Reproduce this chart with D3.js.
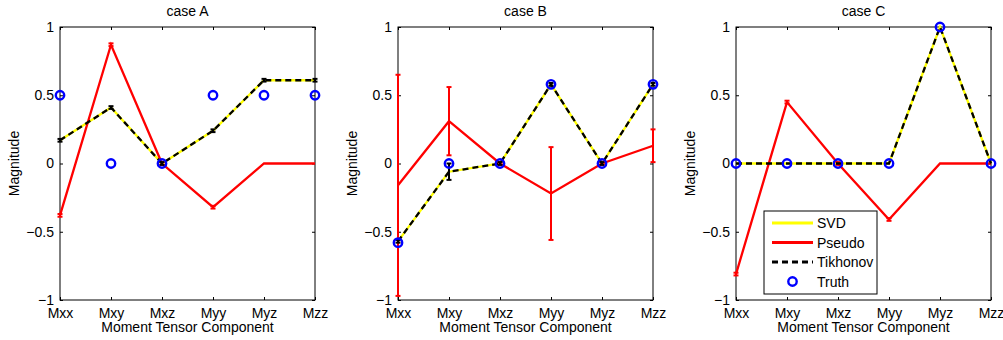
<!DOCTYPE html>
<html>
<head>
<meta charset="utf-8">
<script src="https://cdn.jsdelivr.net/npm/d3@7"></script>
<style>
  body { margin: 0; background: #fff; }
  text { font-family: "Liberation Sans", Arial, sans-serif; fill: #000; }
</style>
</head>
<body>
<div id="chart"></div>
<script>
// categories and ticks
var components = ["Mxx", "Mxy", "Mxz", "Myy", "Myz", "Mzz"];
var yTicks = [-1, -0.5, 0, 0.5, 1];
var caseNames = ["case A", "case B", "case C"];

// case A
var svdA = [0.17, 0.41, 0, 0.24, 0.61, 0.61];
var pseudoA = [-0.38, 0.87, 0, -0.32, 0, 0];
var pseudoErrA = [0.01, 0.01, 0.01, 0.01, 0, 0];
var tikhA = [0.17, 0.41, 0, 0.24, 0.61, 0.61];
var tikhErrA = [0.01, 0.01, 0.01, 0.01, 0.01, 0.01];
var truthA = [0.5, 0, 0, 0.5, 0.5, 0.5];

// case B
var svdB = [-0.57, -0.06, 0, 0.58, 0, 0.58];
var pseudoB = [-0.16, 0.31, 0, -0.22, 0, 0.13];
var pseudoErrB = [0.81, 0.25, 0.01, 0.34, 0.01, 0.12];
var tikhB = [-0.57, -0.06, 0, 0.58, 0, 0.58];
var tikhErrB = [0.01, 0.06, 0.01, 0.01, 0.01, 0.01];
var truthB = [-0.58, 0, 0, 0.58, 0, 0.58];

// case C
var svdC = [0, 0, 0, 0, 1, 0];
var pseudoC = [-0.81, 0.45, 0, -0.41, 0, 0];
var pseudoErrC = [0.01, 0.01, 0.01, 0.01, 0, 0];
var tikhC = [0, 0, 0, 0, 1, 0];
var tikhErrC = [0, 0, 0, 0, 0, 0];
var truthC = [0, 0, 0, 0, 1, 0];

var legendNames = ["SVD", "Pseudo", "Tikhonov", "Truth"];

var panels = [
  {title: caseNames[0], svd: svdA, pseudo: pseudoA, pErr: pseudoErrA, tikh: tikhA, tErr: tikhErrA, truth: truthA},
  {title: caseNames[1], svd: svdB, pseudo: pseudoB, pErr: pseudoErrB, tikh: tikhB, tErr: tikhErrB, truth: truthB},
  {title: caseNames[2], svd: svdC, pseudo: pseudoC, pErr: pseudoErrC, tikh: tikhC, tErr: tikhErrC, truth: truthC}
];

var W = 1003, H = 340;
var lefts = [60, 398, 736];
var plotTop = 27, pw = 255, ph = 273;
var fs = "14px";

var svg = d3.select("#chart").append("svg")
    .attr("width", W)
    .attr("height", H);

var x = d3.scalePoint().domain(components).range([0, pw]);
var y = d3.scaleLinear().domain([-1, 1]).range([ph, 0]);

var fmt = function(d) { return d < 0 ? "\u2212" + Math.abs(d) : String(d); };

var line = d3.line()
    .x(function(d, i) { return x(components[i]); })
    .y(function(d) { return y(d); });

panels.forEach(function(p, k) {
  var g = svg.append("g")
      .attr("transform", "translate(" + lefts[k] + "," + plotTop + ")");

  g.append("rect")
      .attr("width", pw).attr("height", ph)
      .attr("fill", "#fff");

  // axes with inward ticks
  g.append("g").attr("transform", "translate(0," + ph + ")")
      .call(d3.axisBottom(x).tickSizeInner(-3).tickSizeOuter(0).tickPadding(8));
  g.append("g")
      .call(d3.axisTop(x).tickSizeInner(-3).tickSizeOuter(0).tickFormat(""));
  g.append("g")
      .call(d3.axisLeft(y).tickValues(yTicks).tickFormat(fmt).tickSizeInner(-3).tickSizeOuter(0).tickPadding(6));
  g.append("g").attr("transform", "translate(" + pw + ",0)")
      .call(d3.axisRight(y).tickValues(yTicks).tickFormat("").tickSizeInner(-3).tickSizeOuter(0));
  g.selectAll(".domain").remove();
  g.selectAll(".tick line").attr("stroke", "#000");
  g.selectAll(".tick text").style("font-size", fs).style("font-family", "Liberation Sans, Arial, sans-serif");

  g.append("rect")
      .attr("width", pw).attr("height", ph)
      .attr("fill", "none").attr("stroke", "#000").attr("stroke-width", 1);

  g.append("text")
      .attr("x", pw / 2).attr("y", -11)
      .attr("text-anchor", "middle")
      .style("font-size", fs)
      .text(p.title);

  g.append("text")
      .attr("x", pw / 2).attr("y", ph + 32)
      .attr("text-anchor", "middle")
      .style("font-size", fs)
      .text("Moment Tensor Component");

  g.append("text")
      .attr("transform", "translate(" + (-41) + "," + (ph / 2) + ") rotate(-90)")
      .attr("text-anchor", "middle")
      .style("font-size", fs)
      .text("Magnitude");

  // SVD
  g.append("path").datum(p.svd)
      .attr("d", line)
      .attr("fill", "none").attr("stroke", "#ffff00").attr("stroke-width", 2.3);

  // Pseudo with error bars
  g.append("path").datum(p.pseudo)
      .attr("d", line)
      .attr("fill", "none").attr("stroke", "#ff0000").attr("stroke-width", 2.3);
  drawErr(g, p.pseudo, p.pErr, "#ff0000");

  // Tikhonov dashed with error bars
  g.append("path").datum(p.tikh)
      .attr("d", line)
      .attr("fill", "none").attr("stroke", "#000").attr("stroke-width", 2.3)
      .attr("stroke-dasharray", "6,4");
  drawErr(g, p.tikh, p.tErr, "#000");

  // Truth
  g.selectAll(".truth")
      .data(p.truth)
    .enter().append("circle")
      .attr("class", "truth")
      .attr("cx", function(d, i) { return x(components[i]); })
      .attr("cy", function(d) { return y(d); })
      .attr("r", 4.2)
      .attr("fill", "none")
      .attr("stroke", "#0000ff")
      .attr("stroke-width", 2.4);

  if (k == 2) drawLegend(g);
});

function drawErr(g, vals, errs, color) {
  var eg = g.append("g");
  vals.forEach(function(v, i) {
    var e = errs[i];
    if (!e) return;
    var cx = x(components[i]);
    eg.append("line")
        .attr("x1", cx).attr("x2", cx)
        .attr("y1", y(v - e)).attr("y2", y(v + e))
        .attr("stroke", color).attr("stroke-width", 2);
    [v - e, v + e].forEach(function(b) {
      eg.append("line")
          .attr("x1", cx - 2.5).attr("x2", cx + 2.5)
          .attr("y1", y(b)).attr("y2", y(b))
          .attr("stroke", color).attr("stroke-width", 2);
    });
  });
}

function drawLegend(g) {
  var lx = 28, ly = 184, lw = 113, lh = 83;
  var lg = g.append("g").attr("transform", "translate(" + lx + "," + ly + ")");
  lg.append("rect")
      .attr("width", lw).attr("height", lh)
      .attr("fill", "#fff").attr("stroke", "#000").attr("stroke-width", 1);
  var styles = [
    {stroke: "#ffff00", dash: null},
    {stroke: "#ff0000", dash: null},
    {stroke: "#000", dash: "6,4"},
    {stroke: null, dash: null}
  ];
  legendNames.forEach(function(name, i) {
    var yy = 12 + i * 19.5;
    if (styles[i].stroke) {
      lg.append("line")
          .attr("x1", 8).attr("x2", 49)
          .attr("y1", yy).attr("y2", yy)
          .attr("stroke", styles[i].stroke).attr("stroke-width", 2.8)
          .attr("stroke-dasharray", styles[i].dash);
    } else {
      lg.append("circle")
          .attr("cx", 28.5).attr("cy", yy).attr("r", 4.2)
          .attr("fill", "none").attr("stroke", "#0000ff").attr("stroke-width", 2.4);
    }
    lg.append("text")
        .attr("x", 53).attr("y", yy + 5)
        .style("font-size", fs)
        .text(name);
  });
}
</script>
</body>
</html>
